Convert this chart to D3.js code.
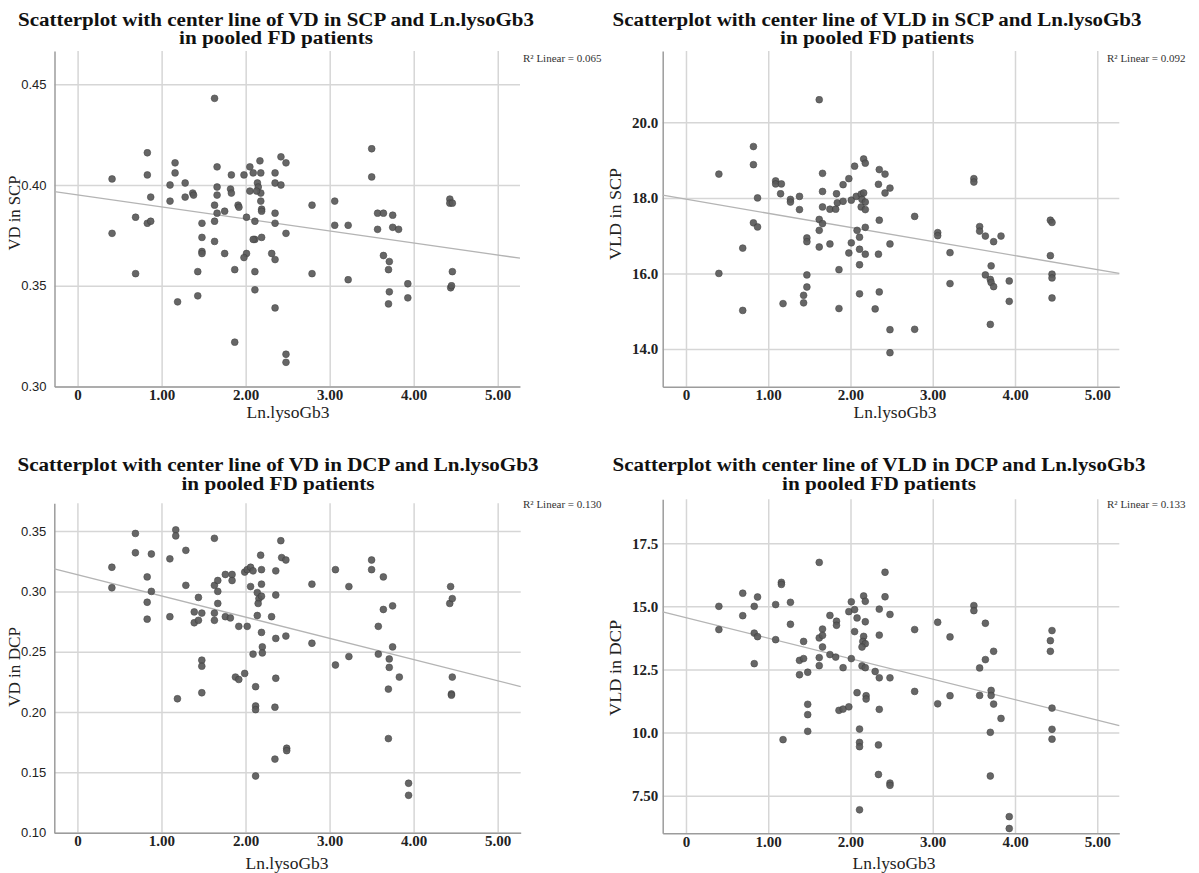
<!DOCTYPE html>
<html>
<head>
<meta charset="utf-8">
<script src="https://cdn.jsdelivr.net/npm/d3@7"></script>
<style>
  body { margin: 0; background: #fff; }
  .title { font-family: "Liberation Serif", "Times New Roman", serif; font-weight: bold; font-size: 18px; fill: #111; }
  .axisTitle { font-family: "Liberation Serif", "Times New Roman", serif; font-size: 16px; fill: #222; }
  .r2 { font-family: "Liberation Serif", "Times New Roman", serif; font-size: 11px; fill: #333; }
  .grid line { stroke: #d6d6d6; stroke-width: 1.5; }
  .grid path { display: none; }
  .axis path { stroke: #9c9c9c; stroke-width: 1.5; }
  .axis line { display: none; }
  .xAxis text { font-family: "Liberation Serif", serif; font-weight: bold; font-size: 15px; fill: #222; }
  .ySans text { font-family: "Liberation Sans", Arial, sans-serif; font-size: 13px; fill: #222; }
  .ySerif text { font-family: "Liberation Serif", serif; font-weight: bold; font-size: 15px; fill: #222; }
</style>
</head>
<body>
<div class="chart"></div>
<script>
var svgWidth = 1199;
var svgHeight = 873;

// Data (x = Ln.lysoGb3)
var vdScpLn = [1.63,0.83,0.83,0.41,1.16,1.16,1.10,1.10,1.28,1.28,1.37,1.38,0.87,0.69,0.83,0.87,0.41,0.69,1.66,1.66,
  1.66,1.63,1.66,1.75,1.63,1.63,1.48,1.48,1.48,1.48,1.43,1.43,1.19,1.75,1.87,1.87,1.83,1.82,1.83,1.91,
  1.92,1.98,2.05,2.09,2.18,2.17,2.14,2.15,2.18,2.13,2.05,2.18,2.19,2.19,2.01,2.11,2.11,2.09,2.19,2.01,
  1.98,2.11,2.11,2.35,2.35,2.42,2.48,2.42,2.35,2.35,2.48,2.31,2.35,2.35,2.48,2.48,2.79,2.79,3.50,3.50,
  3.06,3.06,3.22,3.22,3.57,3.64,3.75,3.57,3.75,3.82,3.64,3.71,3.70,3.71,3.70,3.93,3.93,4.43,4.43,4.46,
  4.46,4.44,4.45];
var vdScp = [0.443,0.416,0.405,0.403,0.411,0.406,0.400,0.392,0.401,0.394,0.396,0.395,0.394,0.384,0.381,0.382,0.376,0.356,0.409,0.399,
  0.395,0.390,0.386,0.387,0.382,0.372,0.381,0.374,0.367,0.366,0.357,0.345,0.342,0.366,0.358,0.322,0.405,0.398,0.396,0.390,
  0.389,0.405,0.409,0.406,0.406,0.412,0.401,0.399,0.396,0.397,0.397,0.392,0.388,0.387,0.384,0.382,0.373,0.373,0.374,0.366,
  0.364,0.357,0.348,0.406,0.401,0.414,0.411,0.400,0.386,0.381,0.376,0.366,0.363,0.339,0.316,0.312,0.390,0.356,0.418,0.404,
  0.392,0.380,0.380,0.353,0.386,0.386,0.385,0.378,0.379,0.378,0.365,0.362,0.358,0.347,0.341,0.351,0.344,0.393,0.391,0.391,
  0.357,0.349,0.350];

var vldScpLn = [1.62,0.82,0.82,0.40,0.40,0.69,0.69,0.87,0.82,0.87,1.09,1.09,1.16,1.15,1.27,1.27,1.38,1.38,1.18,1.47,
  1.47,1.43,1.43,1.47,1.47,1.62,1.62,1.66,1.62,1.66,1.66,1.66,1.75,1.82,1.83,1.84,1.75,1.86,1.86,1.91,
  1.91,1.98,2.05,2.01,2.07,2.13,2.16,2.16,2.18,2.14,2.18,2.13,2.18,2.18,2.08,2.11,2.01,2.11,1.98,2.18,
  2.11,2.11,2.35,2.42,2.34,2.42,2.48,2.35,2.48,2.34,2.35,2.30,2.48,2.48,2.78,2.78,3.50,3.50,3.06,3.06,
  3.21,3.21,3.57,3.57,3.64,3.83,3.74,3.71,3.64,3.70,3.71,3.74,3.70,3.93,3.93,4.43,4.45,4.43,4.45,4.45,
  4.45];
var vldScp = [20.60,19.36,18.88,18.63,16.00,16.67,15.02,18.00,17.34,17.23,18.45,18.37,18.37,18.11,17.96,17.89,18.04,17.69,15.20,15.96,
  15.64,15.42,15.22,16.94,16.84,17.43,17.14,17.32,16.70,18.65,18.17,17.76,17.70,17.70,18.11,17.87,16.78,16.10,15.07,18.35,
  17.91,18.51,18.84,17.94,18.04,18.10,18.13,19.03,18.92,17.96,17.89,17.76,17.69,17.22,17.14,16.96,16.81,16.64,16.54,16.51,
  16.23,15.46,18.75,18.63,18.36,18.13,18.26,17.41,16.78,16.51,15.51,15.06,14.51,13.90,17.51,14.52,18.51,18.42,17.08,17.00,
  16.55,15.73,17.24,17.12,16.99,16.99,16.84,16.20,15.96,15.84,15.76,15.65,14.65,15.80,15.26,17.41,17.35,16.47,15.98,15.88,
  15.35];

var vdDcpLn = [0.41,0.41,0.69,0.69,0.83,0.83,0.83,0.88,0.88,1.17,1.17,1.10,1.10,1.29,1.29,1.19,1.44,1.39,1.39,1.44,
  1.48,1.48,1.48,1.48,1.63,1.63,1.63,1.63,1.67,1.67,1.67,1.76,1.84,1.84,1.76,1.82,1.92,1.88,1.92,1.99,
  1.99,2.02,2.06,2.09,2.06,2.02,2.09,2.12,2.12,2.12,2.12,2.18,2.19,2.19,2.14,2.16,2.19,2.15,2.14,2.19,
  2.20,2.20,2.42,2.43,2.48,2.36,2.36,2.31,2.36,2.48,2.36,2.35,2.35,2.49,2.49,2.79,2.79,3.50,3.50,3.07,
  3.23,3.07,3.23,3.64,3.64,3.75,3.58,3.58,3.75,3.71,3.71,3.83,3.70,3.70,3.94,3.94,4.44,4.43,4.46,4.46,
  4.45,4.45];
var vdDcp = [0.320,0.303,0.348,0.332,0.312,0.291,0.277,0.331,0.300,0.351,0.346,0.327,0.279,0.334,0.305,0.211,0.295,0.283,0.274,0.276,
  0.282,0.243,0.238,0.216,0.344,0.305,0.282,0.276,0.309,0.300,0.290,0.314,0.314,0.309,0.279,0.278,0.271,0.229,0.227,0.232,
  0.316,0.318,0.320,0.317,0.304,0.271,0.248,0.221,0.205,0.202,0.147,0.330,0.318,0.306,0.299,0.294,0.296,0.290,0.280,0.266,
  0.254,0.249,0.342,0.328,0.326,0.317,0.297,0.279,0.261,0.263,0.228,0.204,0.161,0.170,0.168,0.306,0.257,0.326,0.318,0.318,
  0.304,0.239,0.246,0.312,0.285,0.288,0.271,0.248,0.254,0.244,0.237,0.229,0.219,0.178,0.141,0.131,0.304,0.290,0.294,0.229,
  0.215,0.214];

var vldDcpLn = [0.40,0.40,0.69,0.69,0.83,0.87,0.83,0.87,0.83,1.09,1.09,1.16,1.16,1.27,1.27,1.18,1.43,1.38,1.43,1.38,
  1.48,1.48,1.48,1.48,1.62,1.62,1.66,1.66,1.66,1.62,1.62,1.75,1.75,1.82,1.83,1.83,1.91,1.86,1.91,1.98,
  2.01,1.98,2.05,2.05,2.01,2.08,2.08,2.16,2.18,2.18,2.16,2.15,2.18,2.14,2.14,2.18,2.19,2.19,2.11,2.11,
  2.11,2.11,2.42,2.42,2.35,2.48,2.35,2.30,2.35,2.48,2.35,2.34,2.34,2.48,2.48,2.78,2.78,3.50,3.50,3.06,
  3.21,3.06,3.21,3.64,3.74,3.64,3.57,3.57,3.71,3.71,3.74,3.83,3.70,3.70,3.93,3.93,4.45,4.43,4.43,4.45,
  4.45,4.45];
var vldDcp = [15.00,14.08,15.52,14.63,15.00,15.37,13.94,13.80,12.73,15.07,13.68,15.95,15.87,15.16,14.29,9.72,13.61,12.86,12.93,12.29,
  12.39,11.12,10.71,10.05,16.74,13.75,14.10,13.85,13.39,12.97,12.65,14.64,13.09,12.99,14.41,14.25,12.57,10.88,10.93,11.02,
  15.18,14.79,14.87,14.00,12.93,14.54,11.58,15.41,15.20,14.39,13.81,13.61,13.52,13.39,12.64,12.57,11.46,11.33,10.14,9.61,
  9.44,6.94,16.35,15.38,14.89,14.68,13.86,12.42,12.17,12.17,10.92,9.51,8.34,8.00,7.91,14.08,11.63,15.03,14.83,14.37,
  13.79,11.14,11.46,14.33,13.22,12.89,12.56,11.47,11.67,11.47,11.13,10.56,10.01,8.28,6.67,6.20,14.04,13.64,13.22,10.97,
  10.13,9.74];

// fit line and R² text
var fitIntercept = [0.3951, 17.965, 0.3139, 14.55];
var fitSlope = [-0.00597, -0.373, -0.0176, -0.811];
var r2Labels = ["R\u00b2 Linear = 0.065", "R\u00b2 Linear = 0.092", "R\u00b2 Linear = 0.130", "R\u00b2 Linear = 0.133"];

var titleLine1 = [
  "Scatterplot with center line of VD in SCP and Ln.lysoGb3",
  "Scatterplot with center line of VLD in SCP and Ln.lysoGb3",
  "Scatterplot with center line of VD in DCP and Ln.lysoGb3",
  "Scatterplot with center line of VLD in DCP and Ln.lysoGb3"
];
var titleLine2 = "in pooled FD patients";
var yTitles = ["VD in SCP", "VLD in SCP", "VD in DCP", "VLD in DCP"];
var xTitle = "Ln.lysoGb3";

var xTicks = [0, 1, 2, 3, 4, 5];
var xTickLabels = ["0", "1.00", "2.00", "3.00", "4.00", "5.00"];
var yTicks = [
  [0.30, 0.35, 0.40, 0.45],
  [14, 16, 18, 20],
  [0.10, 0.15, 0.20, 0.25, 0.30, 0.35],
  [7.5, 10, 12.5, 15, 17.5]
];
var yTickLabels = [
  ["0.30", "0.35", "0.40", "0.45"],
  ["14.0", "16.0", "18.0", "20.0"],
  ["0.10", "0.15", "0.20", "0.25", "0.30", "0.35"],
  ["7.50", "10.0", "12.5", "15.0", "17.5"]
];

// panel layout
var panels = [
  { xs: vdScpLn, ys: vdScp, left: 54.5, right: 520, top: 51, bottom: 386.5,
    xDom: [-0.275, 5.265], yDom: [0.30, 0.4665], yCls: "ySans", yPad: 8,
    tX: 276, tY: [26, 44], tW: [516, 194], ylX: 20, ylY: 213, ylW: 75, xlX: 288, xlY: 418, r2X: 523, r2Y: 62 },
  { xs: vldScpLn, ys: vldScp, left: 662.7, right: 1119.3, top: 51, bottom: 386.7,
    xDom: [-0.283, 5.268], yDom: [13.0, 21.89], yCls: "ySerif", yPad: 4.5,
    tX: 877, tY: [26, 44], tW: [529, 194], ylX: 620.7, ylY: 214, ylW: 92, xlX: 895, xlY: 418, r2X: 1107, r2Y: 62 },
  { xs: vdDcpLn, ys: vdDcp, left: 54.3, right: 520.7, top: 503.3, bottom: 832.7,
    xDom: [-0.275, 5.274], yDom: [0.10, 0.373], yCls: "ySans", yPad: 8,
    tX: 278, tY: [471, 490], tW: [521, 193], ylX: 20, ylY: 667, ylW: 80, xlX: 287, xlY: 869, r2X: 523, r2Y: 508 },
  { xs: vldDcpLn, ys: vldDcp, left: 662.7, right: 1119.3, top: 499.3, bottom: 833.3,
    xDom: [-0.283, 5.268], yDom: [6.01, 19.24], yCls: "ySerif", yPad: 4.5,
    tX: 879, tY: [471, 490], tW: [533, 194], ylX: 620.7, ylY: 668, ylW: 96, xlX: 894, xlY: 869, r2X: 1107, r2Y: 508 }
];

var svg = d3.select(".chart")
  .append("svg")
  .attr("width", svgWidth)
  .attr("height", svgHeight);

panels.forEach(function (p, i) {
  var width = p.right - p.left;
  var height = p.bottom - p.top;

  var g = svg.append("g")
    .attr("transform", `translate(${p.left}, ${p.top})`);

  var xScale = d3.scaleLinear().domain(p.xDom).range([0, width]);
  var yScale = d3.scaleLinear().domain(p.yDom).range([height, 0]);

  // gridlines
  g.append("g")
    .attr("class", "grid")
    .attr("transform", `translate(0, ${height})`)
    .call(d3.axisBottom(xScale).tickValues(xTicks).tickSize(height).tickFormat(""))
    .selectAll("line").attr("y2", -height);

  g.append("g")
    .attr("class", "grid")
    .call(d3.axisLeft(yScale).tickValues(yTicks[i]).tickSize(-width).tickFormat(""));

  // axes
  g.append("g")
    .attr("class", "axis xAxis")
    .attr("transform", `translate(0, ${height})`)
    .call(d3.axisBottom(xScale).tickValues(xTicks).tickSize(0).tickSizeOuter(0).tickPadding(3)
      .tickFormat(function (d, k) { return xTickLabels[k]; }));

  g.append("g")
    .attr("class", "axis " + p.yCls)
    .call(d3.axisLeft(yScale).tickValues(yTicks[i]).tickSize(0).tickSizeOuter(0).tickPadding(p.yPad)
      .tickFormat(function (d, k) { return yTickLabels[i][k]; }));

  // fit line
  var line = d3.line()
    .x(function (d) { return xScale(d); })
    .y(function (d) { return yScale(fitIntercept[i] + fitSlope[i] * d); });

  g.append("path")
    .datum(p.xDom)
    .attr("d", line)
    .attr("fill", "none")
    .attr("stroke", "#b4b4b4")
    .attr("stroke-width", 1.3);

  // points
  g.selectAll("circle")
    .data(p.xs)
    .enter()
    .append("circle")
    .attr("cx", function (d) { return xScale(d); })
    .attr("cy", function (d, k) { return yScale(p.ys[k]); })
    .attr("r", 3.4)
    .attr("fill", "#5a5a5a")
    .attr("stroke", "#3c3c3c")
    .attr("stroke-width", 0.6)
    .attr("opacity", 0.92);

  // titles and labels
  svg.append("text")
    .attr("class", "title")
    .attr("x", p.tX).attr("y", p.tY[0])
    .attr("text-anchor", "middle")
    .attr("textLength", p.tW[0])
    .attr("lengthAdjust", "spacingAndGlyphs")
    .text(titleLine1[i]);

  svg.append("text")
    .attr("class", "title")
    .attr("x", p.tX).attr("y", p.tY[1])
    .attr("text-anchor", "middle")
    .attr("textLength", p.tW[1])
    .attr("lengthAdjust", "spacingAndGlyphs")
    .text(titleLine2);

  svg.append("text")
    .attr("class", "axisTitle")
    .attr("transform", `translate(${p.ylX}, ${p.ylY}) rotate(-90)`)
    .attr("text-anchor", "middle")
    .attr("textLength", p.ylW)
    .attr("lengthAdjust", "spacingAndGlyphs")
    .text(yTitles[i]);

  svg.append("text")
    .attr("class", "axisTitle")
    .attr("x", p.xlX).attr("y", p.xlY)
    .attr("text-anchor", "middle")
    .attr("textLength", 83)
    .attr("lengthAdjust", "spacingAndGlyphs")
    .text(xTitle);

  svg.append("text")
    .attr("class", "r2")
    .attr("x", p.r2X).attr("y", p.r2Y)
    .text(r2Labels[i]);
});
</script>
</body>
</html>
